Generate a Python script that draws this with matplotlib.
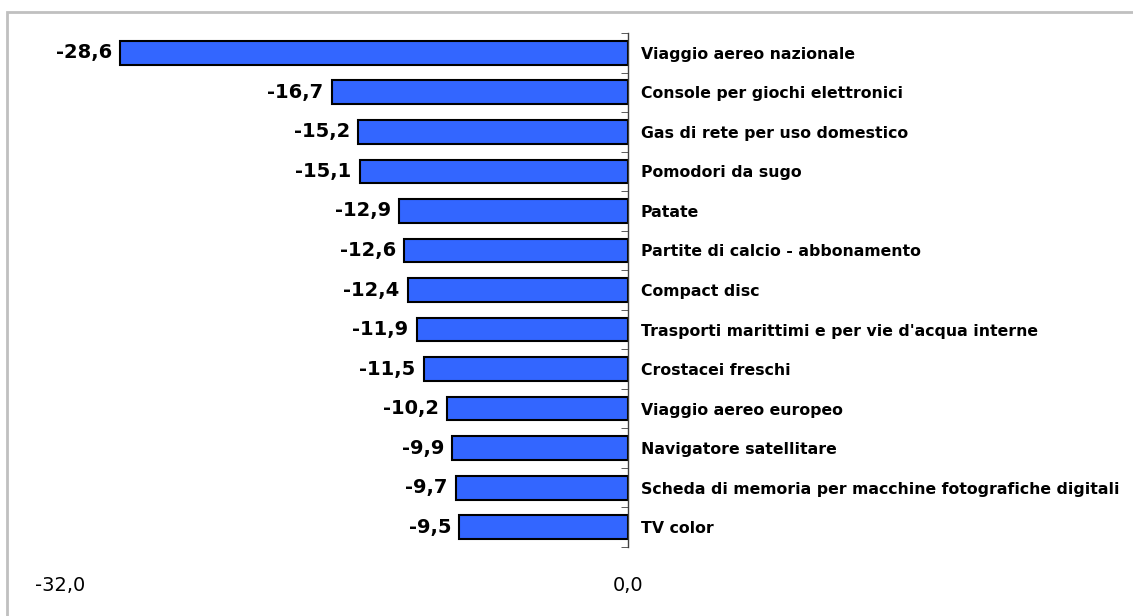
import numpy as np
import matplotlib.pyplot as plt
from matplotlib.patches import Rectangle

# data (variazioni %, top to bottom)
labels = [
    "Viaggio aereo nazionale",
    "Console per giochi elettronici",
    "Gas di rete per uso domestico",
    "Pomodori da sugo",
    "Patate",
    "Partite di calcio - abbonamento",
    "Compact disc",
    "Trasporti marittimi e per vie d'acqua interne",
    "Crostacei freschi",
    "Viaggio aereo europeo",
    "Navigatore satellitare",
    "Scheda di memoria per macchine fotografiche digitali",
    "TV color",
]
values = [-28.6, -16.7, -15.2, -15.1, -12.9, -12.6, -12.4, -11.9, -11.5, -10.2, -9.9, -9.7, -9.5]
x_ticks = [-32.0, 0.0]

fig = plt.figure(figsize=(11.33, 6.16), dpi=100)
ax = fig.add_axes([0.053, 0.112, 0.5013, 0.8344])

# light grey frame around the chart area
fig.patches.append(Rectangle((7 / 1133, -0.1), 1.2, 0.1 + 604 / 616,
                             transform=fig.transFigure, fill=False,
                             edgecolor='#c0c0c0', linewidth=2))

y = np.arange(len(values))
ax.barh(y, values, height=0.6, color='#3366ff', edgecolor='black', linewidth=1.5)

# value labels left of each bar
for i, v in enumerate(values):
    ax.annotate(f"{v:.1f}".replace('.', ','), xy=(v, i), xytext=(-6, 0),
                textcoords='offset points', ha='right', va='center',
                fontsize=14, fontweight='bold', family='DejaVu Sans')

ax.set_xlim(-32, 0)
ax.set_ylim(len(values) - 0.5, -0.5)

for s in ['left', 'top', 'bottom']:
    ax.spines[s].set_visible(False)
ax.spines['right'].set_color('#404040')
ax.spines['right'].set_linewidth(1)

# categories on the zero line side
ax.yaxis.tick_right()
ax.set_yticks(y)
ax.set_yticklabels(labels, fontsize=11.3, fontweight='bold', family='DejaVu Sans')
ax.set_yticks(np.arange(len(values) + 1) - 0.5, minor=True)
ax.tick_params(axis='y', which='major', length=0, pad=9)
ax.tick_params(axis='y', which='minor', length=5, direction='in', color='#404040')

ax.set_xticks(x_ticks)
ax.set_xticklabels([f"{t:.1f}".replace('.', ',') for t in x_ticks],
                   fontsize=14, family='DejaVu Sans')
ax.tick_params(axis='x', length=0, pad=21)

fig.savefig('out.png', dpi=100)
